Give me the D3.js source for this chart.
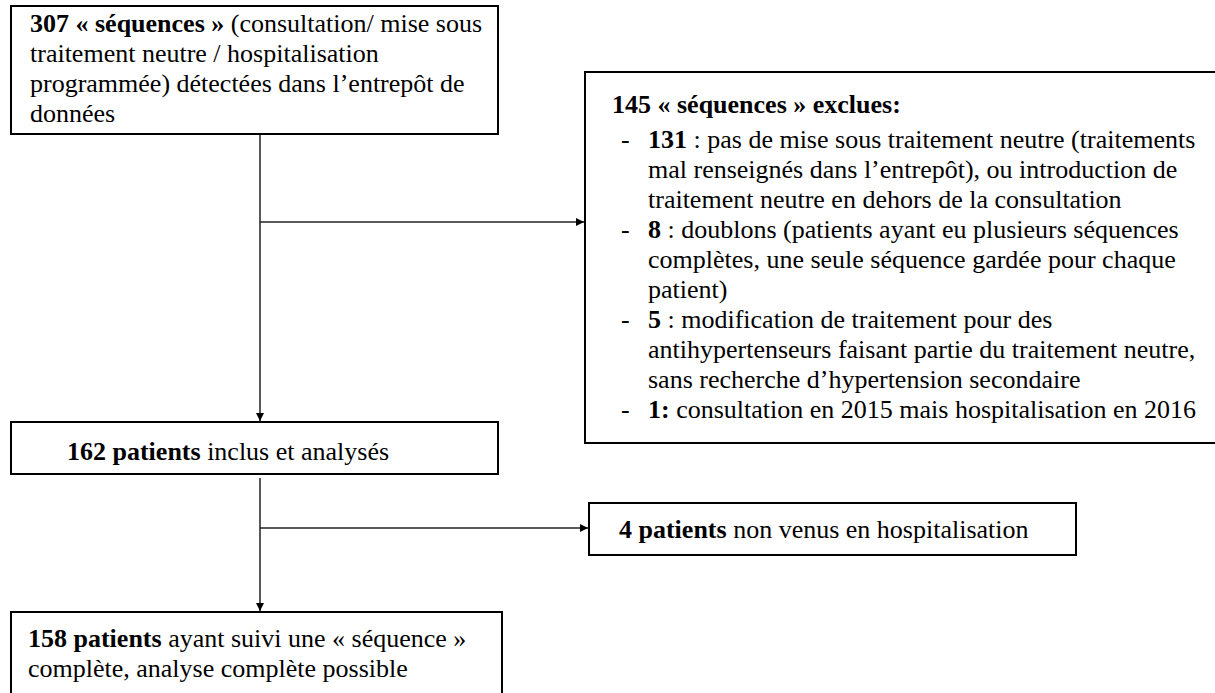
<!DOCTYPE html>
<html>
<head>
<meta charset="utf-8">
<script src="https://cdn.jsdelivr.net/npm/d3@7"></script>
<style>
  body { margin: 0; background: #fff; }
  text { font-family: "Liberation Serif", "Times New Roman", serif; font-size: 26px; fill: #000; white-space: pre; }
</style>
</head>
<body>
<script>
// flow counts
var stageCounts = [307, 162, 158];
var excludedCounts = [145, 4];
var reasonCounts = ['131', '8', '5', '1:'];

// text, line by line ([bold part, normal part])
var firstLines = [
  [stageCounts[0] + ' « séquences »', ' (consultation/ mise sous'],
  ['', 'traitement neutre / hospitalisation'],
  ['', 'programmée) détectées dans l’entrepôt de'],
  ['', 'données']
];
var excludedHead = excludedCounts[0] + ' « séquences » exclues:';
var reasonHeads = [
  ' : pas de mise sous traitement neutre (traitements',
  ' : doublons (patients ayant eu plusieurs séquences',
  ' : modification de traitement pour des',
  ' consultation en 2015 mais hospitalisation en 2016'
];
var reasonLines = [
  ['mal renseignés dans l’entrepôt), ou introduction de', 'traitement neutre en dehors de la consultation'],
  ['complètes, une seule séquence gardée pour chaque', 'patient)'],
  ['antihypertenseurs faisant partie du traitement neutre,', 'sans recherche d’hypertension secondaire'],
  []
];
var includedText = ' inclus et analysés';
var lostText = ' non venus en hospitalisation';
var finalLines = [
  [stageCounts[2] + ' patients', ' ayant suivi une « séquence »'],
  ['', 'complète, analyse complète possible']
];

var width = 1215, height = 693;
var lineH = 30;

var svg = d3.select('body').append('svg')
  .attr('width', width)
  .attr('height', height);

svg.append('defs').append('marker')
  .attr('id', 'arrow')
  .attr('viewBox', '0 0 10 10')
  .attr('refX', 10).attr('refY', 5)
  .attr('markerWidth', 8).attr('markerHeight', 8)
  .attr('markerUnits', 'userSpaceOnUse')
  .attr('orient', 'auto')
  .append('path')
  .attr('d', 'M0,0L10,5L0,10Z')
  .attr('fill', '#000');

function box(x, y, w, h) {
  svg.append('rect')
    .attr('x', x).attr('y', y)
    .attr('width', w).attr('height', h)
    .attr('fill', '#fff')
    .attr('stroke', '#000')
    .attr('stroke-width', 2);
}

function link(x1, y1, x2, y2) {
  svg.append('line')
    .attr('x1', x1).attr('y1', y1)
    .attr('x2', x2).attr('y2', y2)
    .attr('stroke', '#222')
    .attr('stroke-width', 1.5)
    .attr('marker-end', 'url(#arrow)');
}

// one line: bold part then normal part
function writeLine(x, y, d) {
  var t = svg.append('text').attr('x', x).attr('y', y);
  if (d[0]) t.append('tspan').attr('font-weight', 'bold').text(d[0]);
  if (d[1]) t.append('tspan').text(d[1]);
}

// connectors
link(260, 134, 260, 421);
link(260, 222, 584, 222);
link(260, 478, 260, 611);
link(260, 528, 588, 528);

// boxes
box(11, 6, 487, 128);
box(585, 72, 660, 371);
box(11, 422, 487, 52);
box(589, 503, 487, 52);
box(11, 612, 491, 120);

firstLines.forEach(function(d, i) {
  writeLine(30, 32 + i * lineH, d);
});

// excluded box
writeLine(612, 113, [excludedHead, '']);

var row = 0;
reasonCounts.forEach(function(c, i) {
  var y = 148 + row * lineH;
  svg.append('text').attr('x', 621).attr('y', y).text('-');
  writeLine(648, y, [c, reasonHeads[i]]);
  row++;
  reasonLines[i].forEach(function(l) {
    writeLine(648, 148 + row * lineH, ['', l]);
    row++;
  });
});

writeLine(67, 460, [stageCounts[1] + ' patients', includedText]);
writeLine(619, 538, [excludedCounts[1] + ' patients', lostText]);
finalLines.forEach(function(d, i) {
  writeLine(28, 647 + i * lineH, d);
});
</script>
</body>
</html>
